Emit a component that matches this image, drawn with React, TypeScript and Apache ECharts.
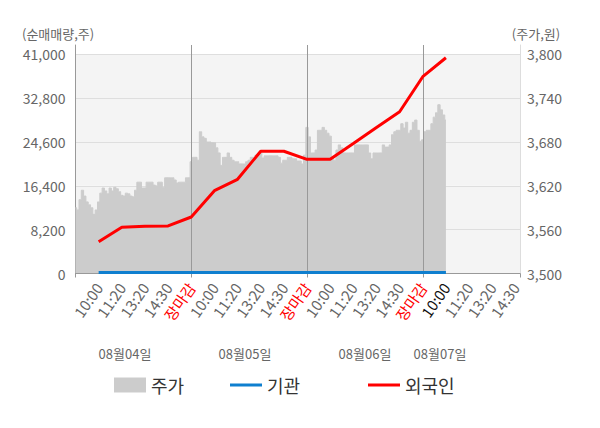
import React, { useEffect, useRef } from 'react';
import * as echarts from 'echarts';

const FONT = "'Noto Sans CJK KR', 'Noto Sans', sans-serif";

// x-axis tick labels (one every label interval)
const tickLabels = [
  '10:00', '11:20', '13:20', '14:30', '장마감',
  '10:00', '11:20', '13:20', '14:30', '장마감',
  '10:00', '11:20', '13:20', '14:30', '장마감',
  '10:00', '11:20', '13:20', '14:30',
];
const dayLabels = ['08월04일', '08월05일', '08월06일', '08월07일'];
const seriesNames = ['주가', '기관', '외국인'];

// 주가 (price, right axis) – one value per slot (10 slots per label interval)
const priceData = [
  3590, 3587, 3601, 3614, 3606, 3598, 3594, 3590, 3581, 3587,
  3598, 3610, 3617, 3613, 3609, 3617, 3613, 3618, 3616, 3612,
  3607, 3606, 3610, 3609, 3606, 3605, 3614, 3625, 3625, 3617,
  3617, 3625, 3625, 3625, 3621, 3620, 3625, 3625, 3618, 3631,
  3631, 3631, 3631, 3628, 3624, 3625, 3625, 3625, 3631, 3631,
  3653, 3659, 3659, 3655, 3694, 3687, 3685, 3680, 3680, 3679,
  3679, 3672, 3665, 3648, 3659, 3659, 3665, 3659, 3655, 3653,
  3653, 3650, 3650, 3650, 3653, 3655, 3659, 3659, 3662, 3664,
  3665, 3658, 3661, 3661, 3661, 3661, 3661, 3661, 3659, 3651,
  3655, 3655, 3659, 3659, 3657, 3657, 3654, 3654, 3650, 3662,
  3700, 3687, 3665, 3665, 3669, 3696, 3696, 3700, 3696, 3692,
  3688, 3658, 3655, 3669, 3676, 3672, 3665, 3665, 3665, 3665,
  3665, 3676, 3676, 3676, 3676, 3676, 3676, 3665, 3657, 3665,
  3665, 3665, 3665, 3676, 3673, 3673, 3676, 3690, 3694, 3696,
  3696, 3705, 3699, 3707, 3692, 3696, 3707, 3710, 3696, 3681,
  3683, 3694, 3696, 3696, 3705, 3714, 3720, 3731, 3724, 3717,
  3710,
];

// 기관 / 외국인 (cumulative net volume, left axis) – one value per tick label
const institutionData = [180, 190, 190, 190, 200, 200, 200, 190, 190, 190, 190, 190, 190, 200, 200, 200];
const foreignData = [5950, 8640, 8830, 8890, 10570, 15490, 17620, 22860, 22860, 21360, 21360, 24320, 27310, 30260, 36810, 40360];

const SLOTS = 10;
const TAIL = 2;
const slotCount = tickLabels.length * SLOTS + TAIL + 1;
const categories = Array.from({ length: slotCount }, (_, i) => 'slot' + i);
const labelAt = (i: number) =>
  i > 0 && i % SLOTS === 0 && i / SLOTS <= tickLabels.length ? tickLabels[i / SLOTS - 1] : '';
const isDayEnd = (i: number) => labelAt(i) === '장마감';
const currentIndex = foreignData.length * SLOTS;

const LEFT_MAX = 42740;
const RIGHT_MIN = 3500;
const RIGHT_MAX = RIGHT_MIN + (300 * LEFT_MAX) / 41000;

export default function App() {
  const ref = useRef<HTMLDivElement>(null);
  useEffect(() => {
    document.body.style.margin = '0';
    if (!ref.current) return;
    const chart = echarts.init(ref.current, null, { renderer: 'svg' });
    const option: any = {
      animation: false,
      textStyle: { fontFamily: FONT },
      grid: { left: 75.5, right: 80, top: 45, bottom: 154.5, containLabel: false },
      xAxis: {
        type: 'category',
        data: categories,
        boundaryGap: false,
        z: 3,
        axisLine: { lineStyle: { color: '#999' } },
        axisTick: {
          show: true,
          interval: (i: number) => i === 0 || isDayEnd(i) || i === slotCount - 1,
          length: 4,
          lineStyle: { color: '#999' },
        },
        axisLabel: {
          interval: (i: number) => labelAt(i) !== '',
          formatter: (_v: string, i: number) => {
            const lab = labelAt(i);
            if (lab === '장마감') return '{r|' + lab + '}';
            if (i === currentIndex) return '{k|' + lab + '}';
            return lab;
          },
          rotate: 55,
          margin: 11,
          fontSize: 15,
          color: '#666',
          fontFamily: FONT,
          rich: {
            r: { color: '#ff0000', fontSize: 15, fontFamily: FONT },
            k: { color: '#111', fontSize: 15, fontFamily: FONT },
          },
        },
        splitLine: {
          show: true,
          interval: (i: number) => isDayEnd(i),
          lineStyle: { color: '#999', width: 1 },
        },
      },
      yAxis: [
        {
          type: 'value',
          min: 0,
          max: LEFT_MAX,
          interval: 8200,
          position: 'left',
          axisLine: { show: true, lineStyle: { color: '#999' } },
          axisTick: { show: false },
          axisLabel: {
            showMaxLabel: false,
            formatter: (v: number) => v.toLocaleString('en-US'),
            fontSize: 14,
            color: '#666',
            margin: 10,
            fontFamily: FONT,
          },
          splitLine: {
            show: true,
            showMinLine: false,
            showMaxLine: false,
            lineStyle: { color: '#dedede' },
          },
          splitArea: {
            show: true,
            areaStyle: {
              color: ['#f4f4f4', '#f4f4f4', '#f4f4f4', '#f4f4f4', '#f4f4f4', 'rgba(0,0,0,0)'],
            },
          },
        },
        {
          type: 'value',
          min: RIGHT_MIN,
          max: RIGHT_MAX,
          interval: 60,
          position: 'right',
          axisLine: { show: true, lineStyle: { color: '#ddd' } },
          axisTick: { show: false },
          axisLabel: {
            showMaxLabel: false,
            formatter: (v: number) => v.toLocaleString('en-US'),
            fontSize: 14,
            color: '#666',
            margin: 7,
            fontFamily: FONT,
          },
          splitLine: { show: false },
        },
      ],
      legend: [
        {
          left: 114, top: 376, padding: 0, itemWidth: 32, itemHeight: 15,
          data: [{ name: seriesNames[0], icon: 'rect' }],
          textStyle: { fontSize: 18, color: '#333', fontFamily: FONT },
          selectedMode: false,
        },
        {
          left: 230, top: 376, padding: 0, itemWidth: 32, itemHeight: 3,
          data: [{ name: seriesNames[1], icon: 'rect' }],
          textStyle: { fontSize: 18, color: '#333', fontFamily: FONT },
          selectedMode: false,
        },
        {
          left: 368, top: 376, padding: 0, itemWidth: 32, itemHeight: 3,
          data: [{ name: seriesNames[2], icon: 'rect' }],
          textStyle: { fontSize: 18, color: '#333', fontFamily: FONT },
          selectedMode: false,
        },
      ],
      graphic: [
        {
          type: 'text', x: 22, y: 33,
          style: { text: '(순매매량,주)', fontSize: 13, fill: '#666', fontFamily: FONT, align: 'left', verticalAlign: 'middle' },
        },
        {
          type: 'text', x: 536, y: 33,
          style: { text: '(주가,원)', fontSize: 13, fill: '#666', fontFamily: FONT, align: 'center', verticalAlign: 'middle' },
        },
        ...dayLabels.map((d, j) => ({
          type: 'text',
          x: [125, 245, 365, 440][j],
          y: 353,
          style: { text: d, fontSize: 13, fill: '#666', fontFamily: FONT, align: 'center', verticalAlign: 'middle' },
        })),
      ],
      series: [
        {
          name: seriesNames[0],
          type: 'line',
          yAxisIndex: 1,
          data: priceData,
          step: 'middle',
          symbol: 'none',
          color: '#cccccc',
          lineStyle: { color: '#cccccc', width: 1 },
          areaStyle: { color: '#cccccc', opacity: 1, origin: 'start' },
          z: 1,
        },
        {
          name: seriesNames[1],
          type: 'line',
          yAxisIndex: 0,
          data: institutionData.map((v, j) => [(j + 1) * SLOTS, v]),
          symbol: 'none',
          color: '#0f7fcf',
          lineStyle: { color: '#0f7fcf', width: 3 },
          z: 4,
        },
        {
          name: seriesNames[2],
          type: 'line',
          yAxisIndex: 0,
          data: foreignData.map((v, j) => [(j + 1) * SLOTS, v]),
          symbol: 'none',
          color: '#ff0000',
          lineStyle: { color: '#ff0000', width: 3 },
          z: 5,
        },
      ],
    };
    chart.setOption(option);
    return () => chart.dispose();
  }, []);
  return <div ref={ref} style={{ width: 600, height: 428 }} />;
}
